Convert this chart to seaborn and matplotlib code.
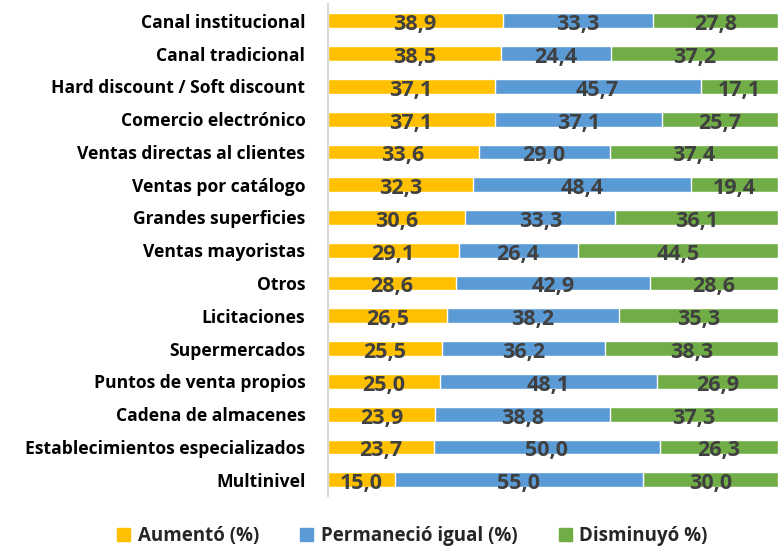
import matplotlib
matplotlib.use("Agg")
import matplotlib.pyplot as plt
from matplotlib.patches import Patch
import seaborn as sns
import pandas as pd
import numpy as np

categories = ["Canal institucional", "Canal tradicional", "Hard discount / Soft discount",
              "Comercio electrónico", "Ventas directas al clientes", "Ventas por catálogo",
              "Grandes superficies", "Ventas mayoristas", "Otros", "Licitaciones",
              "Supermercados", "Puntos de venta propios", "Cadena de almacenes",
              "Establecimientos especializados", "Multinivel"]
aumento = [38.9, 38.5, 37.1, 37.1, 33.6, 32.3, 30.6, 29.1, 28.6, 26.5, 25.5, 25.0, 23.9, 23.7, 15.0]
permanecio = [33.3, 24.4, 45.7, 37.1, 29.0, 48.4, 33.3, 26.4, 42.9, 38.2, 36.2, 48.1, 38.8, 50.0, 55.0]
disminuyo = [27.8, 37.2, 17.1, 25.7, 37.4, 19.4, 36.1, 44.5, 28.6, 35.3, 38.3, 26.9, 37.3, 26.3, 30.0]
series_names = ["Aumentó (%)", "Permaneció igual (%)", "Disminuyó %)"]
colors = ["#FFC000", "#5B9BD5", "#70AD47"]

df = pd.DataFrame({"cat": categories, "a": aumento, "p": permanecio, "d": disminuyo})
df["ap"] = df["a"] + df["p"]
df["apd"] = df["ap"] + df["d"]

sns.set_theme(style="white")
plt.rcParams["font.family"] = ["Open Sans", "DejaVu Sans"]

fig = plt.figure(figsize=(7.78, 5.50), dpi=100)
ax = fig.add_axes([0.421, 0.098, 0.579, 0.894])

sns.barplot(data=df, y="cat", x="apd", color=colors[2], width=0.45, ax=ax, saturation=1, orient="h")
sns.barplot(data=df, y="cat", x="ap", color=colors[1], width=0.45, ax=ax, saturation=1, orient="h")
sns.barplot(data=df, y="cat", x="a", color=colors[0], width=0.45, ax=ax, saturation=1, orient="h")

lab_color = "#404040"
for i in range(len(categories)):
    starts = [0, aumento[i], aumento[i] + permanecio[i]]
    vals = [aumento[i], permanecio[i], disminuyo[i]]
    for s, v in zip(starts, vals):
        ax.text(s + v / 2, i + 0.12, f"{v:.1f}".replace(".", ","), ha="center", va="center",
                fontsize=15.5, fontweight="bold", color=lab_color)

ax.set_xlim(0, 100)
ax.set_ylim(14.5, -0.5)
ax.set_xlabel("")
ax.set_ylabel("")
ax.set_xticks([])
ax.tick_params(axis="y", length=0, pad=16)
for lbl in ax.get_yticklabels():
    lbl.set_fontsize(12.6)
    lbl.set_fontweight("bold")
    lbl.set_color("#000000")
for sp in ["top", "right", "bottom"]:
    ax.spines[sp].set_visible(False)
ax.spines["left"].set_color("#D9D9D9")
ax.spines["left"].set_linewidth(1.5)

handles = [Patch(facecolor=c, edgecolor=c) for c in colors]
fig.legend(handles, series_names, loc="center", bbox_to_anchor=(0.53, 0.025), ncol=3,
           frameon=False, prop={"size": 13.5, "weight": "bold"}, handlelength=0.7, handleheight=0.7,
           handletextpad=0.4, columnspacing=2.2)

fig.savefig("out.png", dpi=100)
